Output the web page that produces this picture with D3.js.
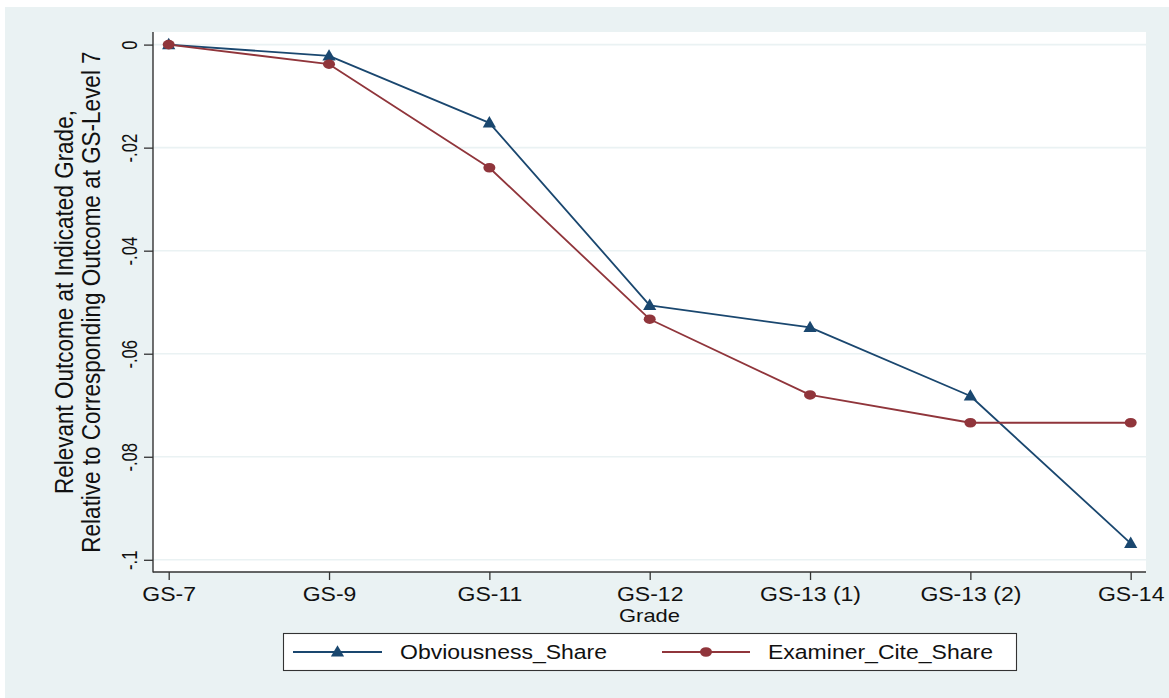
<!DOCTYPE html>
<html>
<head>
<meta charset="utf-8">
<script src="https://cdn.jsdelivr.net/npm/d3@7"></script>
<style>
  html, body { margin: 0; padding: 0; background: #ffffff; }
  svg { display: block; }
  text { font-family: "Liberation Sans", Arial, Helvetica, sans-serif; fill: #111; }
</style>
</head>
<body>
<svg id="chart" width="1169" height="698"></svg>
<script>
// Grade levels along the x axis
const grades = ["GS-7", "GS-9", "GS-11", "GS-12", "GS-13 (1)", "GS-13 (2)", "GS-14"];

// Outcome at each grade relative to the GS-7 level
const obviousnessShare = [0, -0.0022, -0.0152, -0.0506, -0.0549, -0.0682, -0.0968];
const examinerCiteShare = [0, -0.0038, -0.0239, -0.0533, -0.0680, -0.0734, -0.0734];

// y-axis ticks and their printed labels
const yTickValues = [0, -0.02, -0.04, -0.06, -0.08, -0.1];
const yTickLabels = ["0", "-.02", "-.04", "-.06", "-.08", "-.1"];

const seriesNames = ["Obviousness_Share", "Examiner_Cite_Share"];
const seriesColors = ["#1A476F", "#90353B"];

const svg = d3.select("#chart");
const W = 1169, H = 698;

// Frame
const plot = { left: 153, right: 1146, top: 32, bottom: 572 };

const x = d3.scalePoint().domain(grades).range([168.7, 1130.7]);
const y = d3.scaleLinear().domain([0, -0.1]).range([44.6, 559.8]);

// outer background
svg.append("rect").attr("x", 0).attr("y", 0).attr("width", W).attr("height", H).attr("fill", "#ffffff");
svg.append("rect").attr("x", 5).attr("y", 7).attr("width", W - 5).attr("height", H - 7).attr("fill", "#EAF2F3");

// plot region
svg.append("rect")
  .attr("x", plot.left).attr("y", plot.top)
  .attr("width", plot.right - plot.left).attr("height", plot.bottom - plot.top)
  .attr("fill", "#ffffff");

// horizontal gridlines
svg.append("g").selectAll("line").data(yTickValues).join("line")
  .attr("x1", plot.left).attr("x2", plot.right)
  .attr("y1", d => y(d)).attr("y2", d => y(d))
  .attr("stroke", "#EAF2F3").attr("stroke-width", 1.6);

// y axis
const yAxis = svg.append("g")
  .attr("transform", `translate(${plot.left},0)`)
  .call(d3.axisLeft(y).tickValues(yTickValues).tickSize(9)
    .tickFormat((d, i) => yTickLabels[i]));
yAxis.select(".domain").remove();
yAxis.selectAll(".tick line").attr("stroke", "#333").attr("stroke-width", 1.3);
yAxis.selectAll(".tick text")
  .attr("x", null).attr("dy", null).attr("y", 0)
  .attr("text-anchor", "middle")
  .attr("font-size", 18.5)
  .attr("font-family", "Liberation Sans, Arial, sans-serif")
  .attr("fill", "#111")
  .attr("transform", "translate(-16,0) rotate(-90) scale(0.9,1.15)");

// x axis
const xAxis = svg.append("g")
  .attr("transform", `translate(0,${plot.bottom})`)
  .call(d3.axisBottom(x).tickSize(8).tickSizeOuter(0));
xAxis.select(".domain").remove();
xAxis.selectAll(".tick line").attr("stroke", "#333").attr("stroke-width", 1.3);
xAxis.selectAll(".tick text")
  .attr("y", 0).attr("dy", null)
  .attr("text-anchor", "middle")
  .attr("font-size", 19.5)
  .attr("font-family", "Liberation Sans, Arial, sans-serif")
  .attr("fill", "#111")
  .attr("transform", "translate(0,28.5) scale(1.18,1)");

// axis lines
svg.append("line").attr("x1", plot.left).attr("x2", plot.left)
  .attr("y1", plot.top).attr("y2", plot.bottom + 0.6)
  .attr("stroke", "#333").attr("stroke-width", 1.4);
svg.append("line").attr("x1", plot.left).attr("x2", plot.right)
  .attr("y1", plot.bottom).attr("y2", plot.bottom)
  .attr("stroke", "#333").attr("stroke-width", 1.4);

// axis titles
svg.append("text")
  .attr("text-anchor", "middle")
  .attr("font-size", 18)
  .attr("transform", `translate(${(plot.left + plot.right) / 2},621.5) scale(1.22,1)`)
  .text("Grade");

const yTitle = ["Relevant Outcome at Indicated Grade,", "Relative to Corresponding Outcome at GS-Level 7"];
svg.append("g").selectAll("text").data(yTitle).join("text")
  .attr("text-anchor", "middle")
  .attr("font-size", 22.5)
  .attr("transform", (d, i) => `translate(${i === 0 ? 73 : 100},302) rotate(-90) scale(1,1.15)`)
  .text(d => d);

// series
const line = d3.line().x((d, i) => x(grades[i])).y(d => y(d));
const triangle = "M0,-6.8L6.6,4.6L-6.6,4.6Z";

function drawMarker(g, kind, cx, cy, color) {
  if (kind === 0) {
    g.append("path").attr("d", triangle)
      .attr("transform", `translate(${cx},${cy})`).attr("fill", color);
  } else {
    g.append("ellipse").attr("cx", cx).attr("cy", cy)
      .attr("rx", 6).attr("ry", 4.8).attr("fill", color);
  }
}

[obviousnessShare, examinerCiteShare].forEach((vals, k) => {
  const g = svg.append("g");
  g.append("path").datum(vals).attr("d", line)
    .attr("fill", "none").attr("stroke", seriesColors[k])
    .attr("stroke-width", 1.8).attr("stroke-linejoin", "round");
  vals.forEach((v, i) => drawMarker(g, k, x(grades[i]), y(v), seriesColors[k]));
});

// legend
const legend = svg.append("g");
legend.append("rect").attr("x", 283.5).attr("y", 633.5).attr("width", 733).attr("height", 37)
  .attr("fill", "#ffffff").attr("stroke", "#333").attr("stroke-width", 1.1);
const legendItems = [
  { x0: 293, x1: 382, text: 400 },
  { x0: 662, x1: 750, text: 768 }
];
legendItems.forEach((it, k) => {
  const ly = 652;
  legend.append("line").attr("x1", it.x0).attr("x2", it.x1).attr("y1", ly).attr("y2", ly)
    .attr("stroke", seriesColors[k]).attr("stroke-width", 1.8);
  drawMarker(legend, k, (it.x0 + it.x1) / 2, ly, seriesColors[k]);
  legend.append("text")
    .attr("font-size", 19.5)
    .attr("transform", `translate(${it.text},659) scale(1.18,1)`)
    .text(seriesNames[k]);
});
</script>
</body>
</html>
